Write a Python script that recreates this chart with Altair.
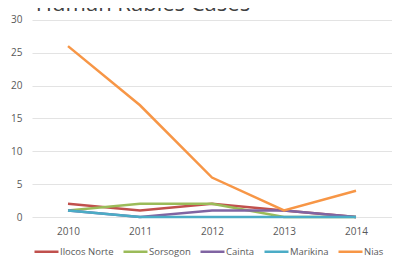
import altair as alt
import pandas as pd

years = ["2010", "2011", "2012", "2013", "2014"]
series = ["Ilocos Norte", "Sorsogon", "Cainta", "Marikina", "Nias"]
ilocos = [2, 1, 2, 1, 0]
sorsogon = [1, 2, 2, 0, 0]
cainta = [1, 0, 1, 1, 0]
marikina = [1, 0, 0, 0, 0]
nias = [26, 17, 6, 1, 4]
colors = ["#c0504d", "#9bbb59", "#8064a2", "#4bacc6", "#f79646"]
title_text = "Human Rabies Cases"

rows = []
for name, vals in zip(series, [ilocos, sorsogon, cainta, marikina, nias]):
    for y, v in zip(years, vals):
        rows.append({"year": y, "series": name, "cases": v, "order": series.index(name)})
df = pd.DataFrame(rows)

FONT = "Open Sans"
GRAY = "#595959"

lines = alt.Chart(df).mark_line(strokeWidth=2.5).encode(
    x=alt.X("year:O", scale=alt.Scale(type="point", padding=0.5),
            axis=alt.Axis(title=None, labelAngle=0, ticks=False, domain=False,
                          labelPadding=9, labelFontSize=10, labelColor=GRAY, labelFont=FONT)),
    y=alt.Y("cases:Q", scale=alt.Scale(domain=[0, 31.8], nice=False, zero=True),
            axis=alt.Axis(title=None, values=[0, 5, 10, 15, 20, 25, 30], ticks=False, domain=False,
                          labelPadding=10, labelFontSize=10, labelColor=GRAY, labelFont=FONT,
                          gridColor="#e3e3e3", gridWidth=1)),
    color=alt.Color("series:N", scale=alt.Scale(domain=series, range=colors),
                    legend=alt.Legend(title=None, orient="none", direction="horizontal",
                                      legendX=1, legendY=230, symbolType="stroke",
                                      symbolSize=576, symbolStrokeWidth=2.5,
                                      labelFontSize=9.5, labelColor=GRAY, labelFont=FONT,
                                      columnPadding=4, labelOffset=0)),
    order="order:Q",
)

title_df = pd.DataFrame({"t": [title_text]})
title = alt.Chart(title_df).mark_text(
    clip=True, fontSize=22, font=FONT, color="#404040", baseline="alphabetic", align="center"
).encode(
    text="t:N",
    x=alt.value(111),
    y=alt.value(3),
)

chart = alt.layer(lines, title).properties(
    width=360, height=209,
    autosize=alt.AutoSizeParams(type="none"),
    padding={"left": 24, "top": 0, "right": 0, "bottom": 40},
    background="white",
).configure_view(stroke=None)

chart.save("out.html", embed_options={"renderer": "svg", "actions": False})
